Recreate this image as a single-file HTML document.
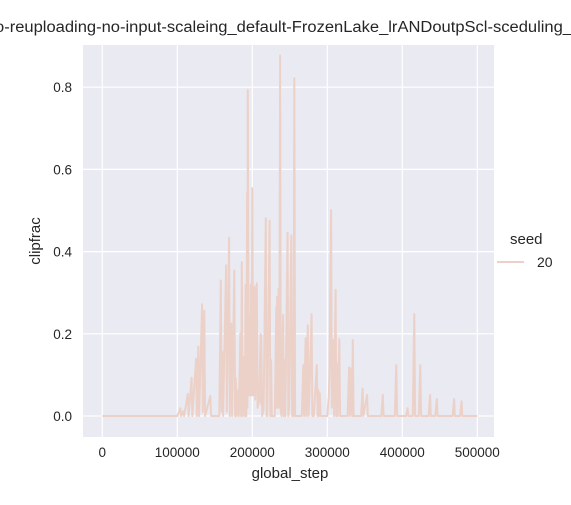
<!DOCTYPE html>
<html><head><meta charset="utf-8"><style>
html,body{margin:0;padding:0;background:#fff;}
svg text{font-family:"Liberation Sans",Arial,sans-serif;fill:#262626;}
</style></head><body>
<svg id="chart" width="571" height="500" xmlns="http://www.w3.org/2000/svg">
<text x="-5" y="32" font-size="15.5" textLength="577" lengthAdjust="spacingAndGlyphs">o-reuploading-no-input-scaleing_default-FrozenLake_lrANDoutpScl-sceduling_</text>
<rect x="83" y="45" width="411" height="392" fill="#eaeaf2"/>
<g id="grid"></g>
<g id="series"></g>
<g id="ticks"></g>
<text x="290" y="478" font-size="15" text-anchor="middle">global_step</text>
<text x="0" y="0" font-size="15" text-anchor="middle" transform="translate(40,241) rotate(-90)">clipfrac</text>
<g>
<text x="510" y="244" font-size="15">seed</text>
<line x1="497" y1="262" x2="524" y2="262" stroke="#ecd1c8" stroke-width="2"/>
<text x="537" y="267" font-size="14">20</text>
</g>
</svg>
<script>
const xTicks=[0,100000,200000,300000,400000,500000];
const yTicks=[0.0,0.2,0.4,0.6,0.8];
const yTickLabels=["0.0","0.2","0.4","0.6","0.8"];
const steps=[0,100000,104000,105000,108000,109000,114000,115000,119000,120000,125000,126000,128000,129000,133000,134000,136000,137000,144000,145000,156000,158000,159000,160000,161000,165000,166000,169000,170000,172000,173000,176000,177000,178000,179000,181000,182000,184000,185000,186000,187000,189000,190000,191000,192000,193000,193500,194000,195000,197000,197500,198000,199000,200000,201000,202000,203000,204000,206000,207000,209000,211000,211500,212000,213000,215000,218000,219000,220000,223000,224000,225000,226000,230000,232000,232500,233000,234000,235000,236000,237000,238000,239000,241000,242000,243000,244000,247000,248000,249000,252000,253000,254000,255000,256000,257000,258000,266000,268000,269000,271000,272000,274000,275000,276000,279000,280000,282000,286000,287000,288000,289000,290000,291000,300000,302000,303000,304000,305000,306000,308000,309000,311000,312000,313000,314000,316000,317000,327000,329000,330000,332000,333000,334000,335000,345000,347000,348000,353000,354000,372000,374000,375000,390000,392000,393000,405000,407000,408000,414000,416000,417000,422000,424000,425000,435000,437000,438000,444000,446000,447000,467000,469000,470000,477000,479000,480000,500000];
const values=[0,0,0.019,0,0.012,0,0.054,0,0.093,0,0.139,0,0.169,0,0.272,0.01,0.256,0,0.049,0,0,0.33,0.01,0.157,0,0.367,0.01,0.434,0,0.225,0,0.354,0,0.092,0,0.063,0,0.2,0,0.374,0,0.144,0,0.319,0,0.542,0.02,0.793,0.05,0.242,0.05,0.319,0.05,0.554,0.05,0.055,0.315,0.04,0.323,0.02,0.04,0.2,0.03,0.197,0,0.015,0.481,0,0,0.475,0,0.136,0,0,0.266,0.02,0.29,0.02,0.31,0.02,0.877,0.01,0,0.246,0,0.136,0,0.446,0,0.015,0.44,0,0.116,0,0.822,0,0,0,0.124,0,0.189,0,0.221,0,0.04,0.248,0,0,0.124,0,0.063,0,0.055,0,0,0.049,0.108,0.347,0.501,0.02,0.185,0,0.307,0,0.128,0,0.187,0,0,0.118,0,0.116,0,0.185,0,0,0.067,0,0.051,0,0,0.051,0,0,0.124,0,0,0.019,0,0,0.248,0,0,0.124,0,0,0.051,0,0,0.041,0,0,0.041,0,0,0.036,0,0];
const NS="http://www.w3.org/2000/svg";
const X0=102.3,XS=75/100000,Y0=416,YS=411;
function xs(v){return X0+v*XS;}
function ys(v){return Y0-v*YS;}
const grid=document.getElementById('grid'),ticks=document.getElementById('ticks'),series=document.getElementById('series');
xTicks.forEach(t=>{
const l=document.createElementNS(NS,'line');


l.setAttribute('x1',xs(t));l.setAttribute('x2',xs(t));l.setAttribute('y1',45);l.setAttribute('y2',437);
l.setAttribute('stroke','#fff');l.setAttribute('stroke-width','1.2');grid.appendChild(l);
const tx=document.createElementNS(NS,'text');


tx.setAttribute('x',xs(t));tx.setAttribute('y',457);tx.setAttribute('font-size','13.5');tx.setAttribute('text-anchor','middle');
tx.textContent=String(t);ticks.appendChild(tx);
});
yTicks.forEach((t,i)=>{
const l=document.createElementNS(NS,'line');


l.setAttribute('x1',83);l.setAttribute('x2',494);l.setAttribute('y1',ys(t));l.setAttribute('y2',ys(t));
l.setAttribute('stroke','#fff');l.setAttribute('stroke-width','1.2');grid.appendChild(l);
const tx=document.createElementNS(NS,'text');


tx.setAttribute('x',72);tx.setAttribute('y',ys(t)+5);tx.setAttribute('font-size','13.5');tx.setAttribute('text-anchor','end');
tx.textContent=yTickLabels[i];ticks.appendChild(tx);
});
const p=document.createElementNS(NS,'path');


p.setAttribute('d',steps.map((s,i)=>(i?'L':'M')+xs(s).toFixed(1)+','+ys(values[i]).toFixed(1)).join(''));
p.setAttribute('fill','none');p.setAttribute('stroke','#ecd1c8');p.setAttribute('stroke-width','2');p.setAttribute('stroke-linejoin','round');
series.appendChild(p);
</script>
</body></html>
